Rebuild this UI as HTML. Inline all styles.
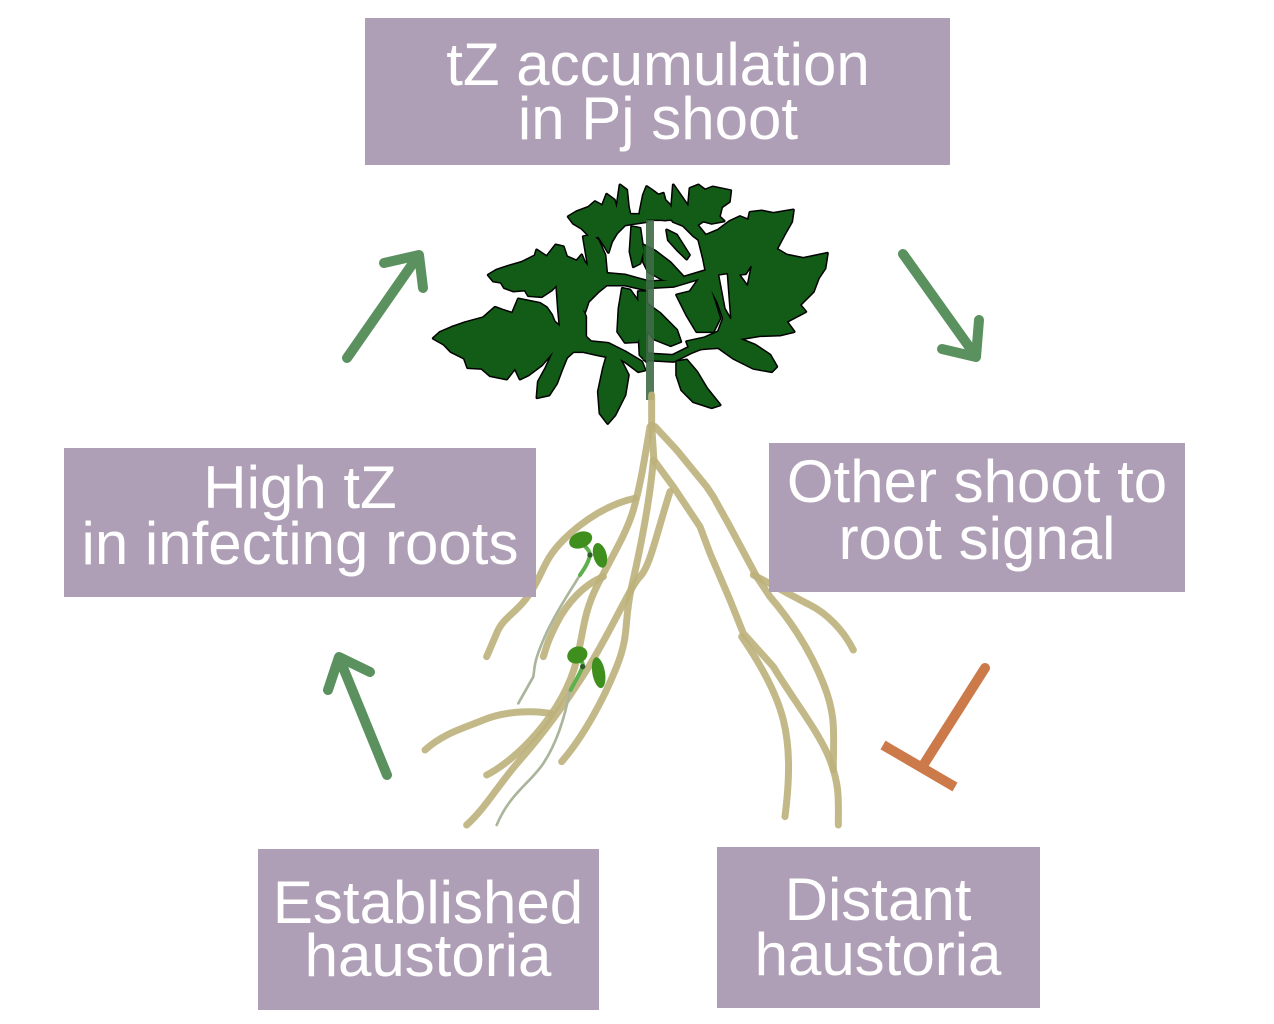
<!DOCTYPE html>
<html><head><meta charset="utf-8"><style>
html,body{margin:0;padding:0;background:#fff;}
svg{display:block;}
text{font-family:"Liberation Sans",Arial,sans-serif;font-size:60px;fill:#fff;text-anchor:middle;}
</style></head><body>
<svg width="1274" height="1024" viewBox="0 0 1274 1024" xmlns="http://www.w3.org/2000/svg">
<defs>
<g id="lv">
<g transform="translate(425 175) scale(0.33333)">
<polygon points="25,490 45,472 80,457 120,443 175,428 210,397 232,405 262,415 280,372 310,378 345,385 365,398 380,420 388,440 405,455 400,400 395,330 425,338 450,362 470,395 482,425 482,485 498,500 550,505 600,530 650,560 660,585 640,590 600,560 570,545 545,545 520,540 475,530 445,530 425,548 410,585 395,625 372,660 336,668 340,620 362,580 385,530 350,570 310,600 285,612 270,580 245,612 195,602 170,580 128,578 118,550 78,530 57,508"/>
<polygon points="190,300 215,285 255,272 290,262 330,242 335,225 365,245 392,210 415,215 425,245 455,258 470,240 478,260 490,275 475,185 500,180 520,195 540,240 545,295 600,300 665,318 665,345 600,330 545,330 520,350 490,380 480,410 465,395 440,360 415,345 395,330 380,345 350,365 310,362 300,345 265,348 238,338 228,322 205,318"/>
<polygon points="430,125 455,110 490,97 510,80 532,92 545,58 568,75 575,100 585,30 605,45 610,95 615,118 665,118 665,140 630,145 600,150 575,175 560,200 550,232 540,215 520,185 505,190 490,180 470,160 445,145"/>
<polygon points="620,155 645,160 655,230 645,265 625,275 615,230"/>
<polygon points="592,340 615,345 640,380 652,450 640,500 600,502 578,470 582,400"/>
<polygon points="545,545 575,535 595,570 610,600 600,660 570,720 548,745 525,715 520,650 535,580"/>
<polygon points="640,350 665,350 665,560 645,540 640,450"/>
</g>
<g transform="translate(640 175) scale(0.33333)">
<polygon points="0,110 10,60 20,35 35,45 55,60 70,55 75,75 90,90 100,115 105,130 75,135 40,130 0,130"/>
<polygon points="100,30 128,70 145,95 150,40 175,30 195,45 218,36 272,47 268,80 245,96 238,125 252,138 215,145 190,138 172,150 215,203 200,212 160,182 130,152 100,140 85,120 95,95"/>
<polygon points="80,165 110,180 148,240 140,252 112,225 85,195"/>
<polygon points="10,210 45,228 90,262 130,305 118,322 70,315 25,290 10,260"/>
<polygon points="175,190 235,165 268,140 300,125 325,135 330,112 365,108 400,115 460,105 455,140 435,175 410,222 440,240 490,250 562,235 555,280 535,310 520,350 480,390 497,410 440,440 462,470 420,480 360,482 300,492 345,510 390,540 410,575 395,590 340,580 280,550 235,518 200,520 150,525 140,500 195,488 235,470 250,430 232,380 205,330 200,300 190,250"/>
<polygon points="110,360 150,350 185,300 200,295 215,350 240,430 220,470 170,470 140,420"/>
<polygon points="5,375 60,415 110,465 122,500 92,512 42,492 10,452"/>
<polygon points="110,560 140,555 170,590 200,640 240,690 215,698 160,680 125,645 110,600"/>
</g>
</g>
<g id="pt">
<g transform="translate(640 175) scale(0.33333)">
<polyline points="10,330 100,325 200,295"/>
<polyline points="10,545 100,550 150,525 200,505"/>
<polyline points="0,125 100,125 170,150"/>
</g>
</g>
</defs>

<!-- plant leaves -->
<use href="#lv" fill="#000" stroke="#000" stroke-width="9" stroke-linejoin="round"/>
<use href="#pt" fill="none" stroke="#000" stroke-width="27" stroke-linejoin="round"/>
<use href="#lv" fill="#125c17"/>
<use href="#pt" fill="none" stroke="#125c17" stroke-width="18" stroke-linejoin="round"/>
<g transform="translate(640 175) scale(0.33333)" fill="#fff" stroke="#000" stroke-width="4.5" stroke-linejoin="round">
<polygon points="236,300 262,296 272,430 255,400"/>
<polygon points="300,300 322,330 333,275 318,298"/>
</g>
<line x1="650" y1="220" x2="650" y2="400" stroke="#3f6b47" stroke-width="8" stroke-opacity="0.9"/>

<!-- roots -->
<g transform="translate(410 400) scale(0.33333)" fill="none" stroke-linecap="round" stroke-linejoin="round">
<g stroke="#bcb17b" stroke-width="21" stroke-opacity="0.9">
<path d="M725,-15 L725,80"/>
<path d="M725,75 L732,185"/>
<path d="M720,80 C700,200 690,260 670,330 S600,480 560,560 S520,700 500,780 S440,930 380,1000 S260,1110 230,1125"/>
<path d="M730,180 C720,300 690,450 665,560 S660,700 620,800 S520,1010 455,1085"/>
<path d="M780,275 C740,400 720,500 690,530 S600,700 530,810 S400,1000 330,1080 S230,1220 170,1275"/>
<path d="M675,295 C600,310 520,360 460,420 S400,520 360,580 S280,650 260,700 L230,770"/>
<path d="M580,530 C520,555 470,610 440,670 S410,740 400,770"/>
<path d="M420,940 C360,930 280,935 220,960 S100,1000 45,1050"/>
<path d="M735,80 L800,150 L890,260 L910,290 L960,380 L1040,530 L1080,590 C1140,660 1200,750 1240,850 S1270,1000 1270,1110"/>
<path d="M1030,525 C1080,550 1150,590 1200,615 S1300,690 1330,750"/>
<path d="M735,185 L790,260 L870,380 L900,460 L960,600 L1000,700 L1090,800 C1150,900 1230,1000 1260,1080 S1285,1200 1285,1275"/>
<path d="M995,710 C1050,790 1100,880 1120,960 S1140,1130 1125,1250"/>
</g>
<g stroke="#aab59c" stroke-width="8">
<path d="M510,525 C470,590 430,650 400,720 S375,800 370,830 L325,910"/>
<path d="M480,870 C465,950 440,1030 400,1090 S300,1180 260,1275"/>
</g>
<g stroke="#5db04e" stroke-width="12">
<path d="M540,465 C535,490 520,510 510,525"/>
<path d="M518,800 C505,830 492,850 482,870"/>
<path d="M512,430 C530,440 540,455 540,465"/>
<path d="M500,770 C515,780 520,790 518,800"/>
</g>
</g>
<g transform="translate(410 400) scale(0.33333)">
<ellipse cx="512" cy="420" rx="36" ry="24" transform="rotate(-22 512 420)" fill="#3f8f1f"/>
<ellipse cx="570" cy="466" rx="20" ry="38" transform="rotate(-15 570 466)" fill="#3f8f1f"/>
<circle cx="540" cy="465" r="8" fill="#2e5a2a"/>
<ellipse cx="502" cy="765" rx="31" ry="25" transform="rotate(-20 502 765)" fill="#3f8f1f"/>
<ellipse cx="566" cy="818" rx="19" ry="47" transform="rotate(-10 566 818)" fill="#3f8f1f"/>
<circle cx="518" cy="800" r="8" fill="#2e5a2a"/>
</g>

<!-- boxes -->
<rect x="365" y="18" width="585" height="147" fill="#af9fb6"/>
<text x="658" y="85">tZ accumulation</text>
<text x="658" y="139">in Pj shoot</text>

<rect x="64" y="448" width="472" height="149" fill="#af9fb6"/>
<text x="300" y="508">High tZ</text>
<text x="300" y="564">in infecting roots</text>

<rect x="769" y="443" width="416" height="149" fill="#af9fb6"/>
<text x="977" y="502">Other shoot to</text>
<text x="977" y="559">root signal</text>

<rect x="258" y="849" width="341" height="161" fill="#af9fb6"/>
<text x="428" y="923">Established</text>
<text x="428" y="976">haustoria</text>

<rect x="717" y="847" width="323" height="161" fill="#af9fb6"/>
<text x="878" y="920">Distant</text>
<text x="878" y="975">haustoria</text>

<!-- arrows -->
<g stroke="#5a915f" stroke-width="10" fill="none" stroke-linecap="round" stroke-linejoin="round">
<line x1="347" y1="358" x2="418" y2="256"/>
<polyline points="384,263 419,255 423,288"/>
<line x1="903" y1="254" x2="975" y2="355"/>
<polyline points="942,349 976,357 979,320"/>
<line x1="387" y1="775" x2="340" y2="660"/>
<polyline points="328,690 339,657 370,672"/>
</g>
<line x1="985" y1="668" x2="924" y2="764" stroke="#cd7a4a" stroke-width="10" stroke-linecap="round"/>
<line x1="883" y1="745" x2="955" y2="787" stroke="#cd7a4a" stroke-width="10"/>
</svg>
</body></html>
